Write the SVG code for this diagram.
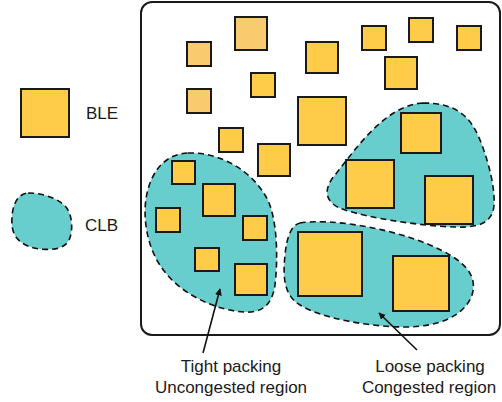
<svg xmlns="http://www.w3.org/2000/svg" width="502" height="402" viewBox="0 0 502 402">
<defs>
<style>
.ble{fill:#FFCC4A;stroke:#1a1a1a;stroke-width:2}
.fade{fill:#FACA6E;stroke:#1a1a1a;stroke-width:2}
.clb{fill:#68CDCD;stroke:#111;stroke-width:1.6;stroke-dasharray:6,4}
.t{font-family:"Liberation Sans",Arial,sans-serif;font-size:17px;fill:#1a1a1a}
.c{text-anchor:middle}
.arr{stroke:#111;stroke-width:1.6;fill:none;marker-end:url(#ah)}
</style>
<marker id="ah" viewBox="0 0 10 10" refX="9" refY="5" markerWidth="7" markerHeight="7" markerUnits="userSpaceOnUse" orient="auto">
<path d="M0,0 L10,5 L0,10 Z" fill="#111"/>
</marker>
</defs>
<rect width="502" height="402" fill="#fff"/>
<g id="frame"><rect x="141" y="2" width="359" height="333" rx="11" fill="none" stroke="#1a1a1a" stroke-width="2"/></g>
<g id="legend-ble"><rect class="ble" x="21" y="89" width="48" height="48"/><text class="t" x="86" y="119">BLE</text></g>
<g id="legend-clb"><path class="clb" d="M28,193 C45,193 60,200 66,207 C73,216 73,232 69,240 C64,250 50,250 40,249 C25,247 13,240 12,225 C11,210 15,194 28,193 Z"/><text class="t" x="85" y="231">CLB</text></g>
<g id="clb-left"><path class="clb" d="M188,153 C220,152 250,170 265,195 C278,215 278,260 275,285 C272,305 262,313 245,312 C220,311 190,298 172,280 C152,260 145,235 145,210 C146,180 160,154 188,153 Z"/></g>
<g id="clb-right"><path class="clb" d="M423,103 C455,103 470,115 480,140 C490,165 495,190 494,205 C493,222 480,228 455,227 C420,226 370,218 345,210 C325,204 322,190 335,175 C355,150 385,105 423,103 Z"/></g>
<g id="clb-bottom"><path class="clb" d="M300,223 C330,218 390,228 430,245 C465,260 478,275 472,295 C465,315 440,327 405,327 C370,327 320,318 300,305 C283,295 283,275 285,255 C287,235 292,225 300,223 Z"/></g>
<g id="ble-faded">
<rect class="fade" x="187" y="42" width="24" height="24"/>
<rect class="fade" x="187" y="89" width="24" height="24"/>
<rect class="fade" x="235" y="17" width="32" height="33"/>
</g>
<g id="ble-free">
<rect class="ble" x="306" y="42" width="32" height="31"/>
<rect class="ble" x="362" y="26" width="24" height="24"/>
<rect class="ble" x="409" y="18" width="24" height="24"/>
<rect class="ble" x="457" y="26" width="24" height="24"/>
<rect class="ble" x="385" y="57" width="32" height="32"/>
<rect class="ble" x="251" y="73" width="24" height="24"/>
<rect class="ble" x="298" y="97" width="48" height="48"/>
<rect class="ble" x="219" y="128" width="24" height="24"/>
<rect class="ble" x="258" y="144" width="32" height="32"/>
</g>
<g id="ble-left">
<rect class="ble" x="172" y="161" width="23" height="23"/>
<rect class="ble" x="203" y="184" width="32" height="32"/>
<rect class="ble" x="156" y="208" width="24" height="24"/>
<rect class="ble" x="243" y="216" width="24" height="24"/>
<rect class="ble" x="195" y="248" width="24" height="23"/>
<rect class="ble" x="235" y="264" width="32" height="31"/>
</g>
<g id="ble-right">
<rect class="ble" x="401" y="113" width="40" height="40"/>
<rect class="ble" x="346" y="160" width="48" height="48"/>
<rect class="ble" x="425" y="176" width="48" height="48"/>
</g>
<g id="ble-bottom">
<rect class="ble" x="298" y="232" width="64" height="64"/>
<rect class="ble" x="393" y="256" width="56" height="55"/>
</g>
<g id="connectors">
<line class="arr" x1="203" y1="353" x2="220" y2="289"/>
<line class="arr" x1="417" y1="350" x2="379" y2="313"/>
</g>
<g id="labels">
<text class="t c" x="231" y="372">Tight packing</text>
<text class="t c" x="231" y="393">Uncongested region</text>
<text class="t c" x="430" y="372">Loose packing</text>
<text class="t c" x="429" y="393">Congested region</text>
</g>
</svg>
